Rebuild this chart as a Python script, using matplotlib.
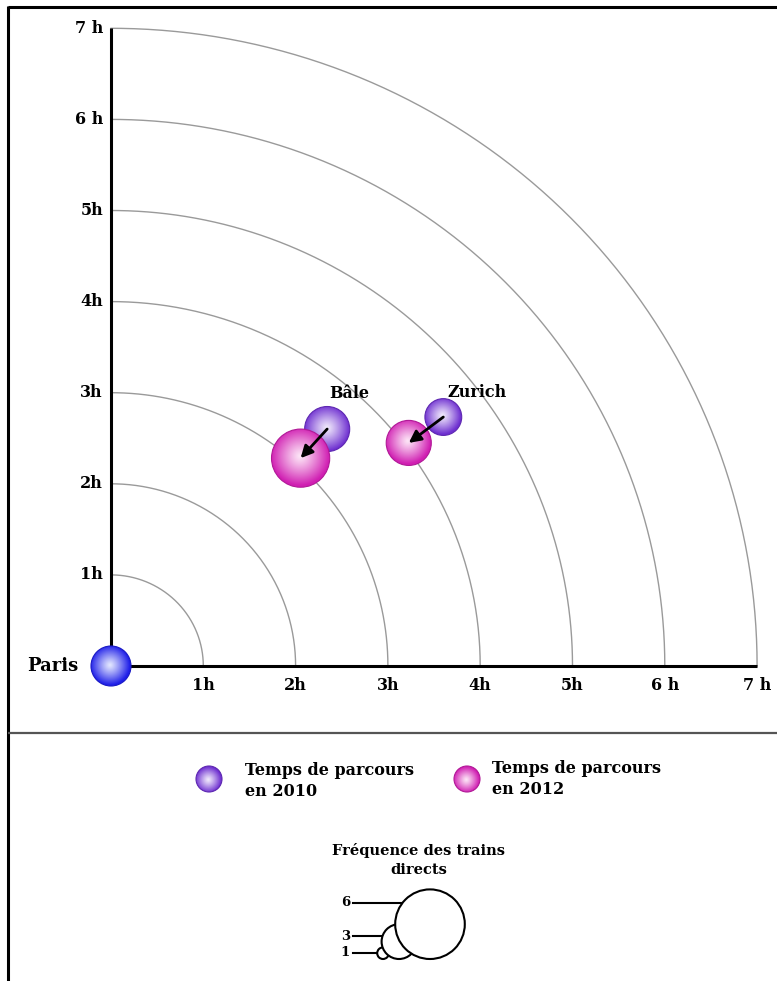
import numpy as np
import matplotlib
matplotlib.use("Agg")
import matplotlib.pyplot as plt
from matplotlib.patches import Ellipse, Circle
from matplotlib.colors import to_rgb

plt.rcParams['font.family'] = ['DejaVu Serif']
plt.rcParams['font.weight'] = 'bold'

# Data
cities = ['Bâle', 'Zurich']
time_2010 = [3.5, 4.52]        # hours from Paris
time_2012 = [3.07, 4.05]
direction_deg = [48.0, 37.2]   # angle of each city in the diagram
freq_2010 = [6, 4]             # direct trains per day
freq_2012 = [10, 6]
hour_ticks = [1, 2, 3, 4, 5, 6, 7]
hour_labels = ['1h', '2h', '3h', '4h', '5h', '6 h', '7 h']
legend_freqs = [1, 3, 6]

W, H = 777, 981
SX, SY = 92.3, 91.1          # pixels per hour
OX, OY = 111, 666            # pixel position of Paris

col_paris = ('#e4e8ff', '#1e1ee8')
col_2010 = ('#f1eafc', '#6e2fd0')
col_2012 = ('#fde6f7', '#d01eb2')


def sphere(ax, x, y, rx, ry, colors, z):
    c0 = np.array(to_rgb(colors[0]))
    c1 = np.array(to_rgb(colors[1]))
    n = 120
    u = np.linspace(-1, 1, n)
    xx, yy = np.meshgrid(u, u)
    d = np.clip(np.sqrt((xx + 0.05) ** 2 + (yy - 0.05) ** 2), 0, 1)
    w = d ** 1.15
    img = c0[None, None, :] * (1 - w[..., None]) + c1[None, None, :] * w[..., None]
    edge = Ellipse((x, y), 2 * rx, 2 * ry, facecolor='none', edgecolor=c1 * 0.85,
                   lw=0.8, zorder=z + 0.1)
    ax.add_patch(edge)
    im = ax.imshow(img, extent=[x - rx, x + rx, y - ry, y + ry], origin='lower',
                   aspect='auto', interpolation='bilinear', zorder=z)
    clip = Ellipse((x, y), 2 * rx, 2 * ry, transform=ax.transData)
    im.set_clip_path(clip)


fig = plt.figure(figsize=(W / 100, H / 100), dpi=100)
ax = fig.add_axes([0, 0, 1, 1])
ax.axis('off')

# travel-time arcs
theta = np.linspace(0, np.pi / 2, 300)
for r in hour_ticks:
    ax.plot(r * np.cos(theta), r * np.sin(theta), color='#9a9a9a', lw=1.0, zorder=1)

# axes
ax.plot([0, 7], [0, 0], color='black', lw=2.2, zorder=2, solid_capstyle='butt')
ax.plot([0, 0], [0, 7], color='black', lw=2.2, zorder=2, solid_capstyle='butt')

for t, lab in zip(hour_ticks, hour_labels):
    ax.text(t, -20 / SY, lab, ha='center', va='center', fontsize=11.5)
    ax.text(-8 / SX, t, lab, ha='right', va='center', fontsize=11.5)

# Paris
sphere(ax, 0, 0, 20 / SX, 20 / SY, col_paris, 5)
ax.text(-33 / SX, 0, 'Paris', ha='right', va='center', fontsize=13)

label_off = [(22, 36), (34, 25)]   # label offset from 2010 bubble, pixels
for i, city in enumerate(cities):
    a = np.radians(direction_deg[i])
    x0, y0 = time_2010[i] * np.cos(a), time_2010[i] * np.sin(a)
    x1, y1 = time_2012[i] * np.cos(a), time_2012[i] * np.sin(a)
    r0 = 9.2 * np.sqrt(freq_2010[i])
    r1 = 9.2 * np.sqrt(freq_2012[i])
    sphere(ax, x0, y0, r0 / SX, r0 / SY, col_2010, 5)
    sphere(ax, x1, y1, r1 / SX, r1 / SY, col_2012, 6)
    ax.annotate('', xy=(x1, y1), xytext=(x0, y0),
                arrowprops=dict(arrowstyle='-|>', color='black', lw=2,
                                mutation_scale=18, shrinkA=0, shrinkB=0),
                zorder=8)
    ax.text(x0 + label_off[i][0] / SX, y0 + label_off[i][1] / SY, city,
            ha='center', va='center', fontsize=11.5, zorder=9)

ax.set_xlim(-OX / SX, (W - OX) / SX)
ax.set_ylim(-(H - OY) / SY, OY / SY)

# overlay in pixel units for frame and legend
lg = fig.add_axes([0, 0, 1, 1])
lg.axis('off')
lg.set_xlim(0, W)
lg.set_ylim(H, 0)

lg.plot([8, W], [7, 7], color='black', lw=2.2, solid_capstyle='butt')
lg.plot([8, 8], [6, H], color='black', lw=2.2, solid_capstyle='butt')
lg.plot([8, W], [733, 733], color='#555555', lw=1.6, solid_capstyle='butt')

sphere(lg, 209, 779, 13, 13, col_2010, 5)
sphere(lg, 467, 779, 13, 13, col_2012, 5)
lg.text(245, 781, 'Temps de parcours\nen 2010', ha='left', va='center',
        fontsize=11.5, linespacing=1.35)
lg.text(492, 779, 'Temps de parcours\nen 2012', ha='left', va='center',
        fontsize=11.5, linespacing=1.35)

lg.text(419, 860, 'Fréquence des trains\ndirects', ha='center', va='center',
        fontsize=10.5, linespacing=1.4)

leg_cx = [383, 399, 430]
leg_line_y = [953, 936, 903]
base = 959
for order in [1, 2, 0]:
    f = legend_freqs[order]
    r = 5.8 * f
    cx, cy = leg_cx[order], base - r
    lg.add_patch(Circle((cx, cy), r, facecolor='white', edgecolor='black',
                        lw=1.5, zorder=3 + order))
for f, cx, ly in zip(legend_freqs, leg_cx, leg_line_y):
    r = 5.8 * f
    cy = base - r
    dx = np.sqrt(max(r ** 2 - (ly - cy) ** 2, 0))
    lg.plot([353, cx - dx], [ly, ly], color='black', lw=1.5, zorder=2)
    lg.text(350, ly, str(f), ha='right', va='center', fontsize=9.5)

fig.savefig('out.png', dpi=100)
